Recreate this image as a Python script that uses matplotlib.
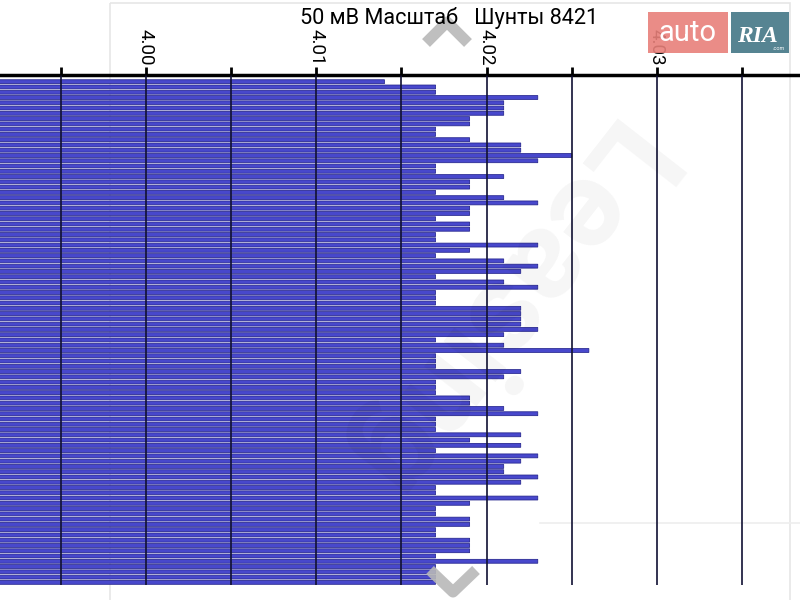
import numpy as np
import matplotlib
matplotlib.use("Agg")
import matplotlib.pyplot as plt
from matplotlib.patches import Rectangle

plt.rcParams['font.family'] = ['Roboto', 'DejaVu Sans']

title = "50 мВ Масштаб   Шунты 8421"
values = [
    4.014, 4.017, 4.017, 4.023, 4.021, 4.021, 4.021, 4.019, 4.019, 4.017,
    4.017, 4.019, 4.022, 4.022, 4.025, 4.023, 4.017, 4.017, 4.021, 4.019,
    4.019, 4.017, 4.021, 4.023, 4.019, 4.019, 4.017, 4.019, 4.019, 4.017,
    4.017, 4.023, 4.019, 4.017, 4.021, 4.023, 4.022, 4.017, 4.021, 4.023,
    4.017, 4.017, 4.017, 4.022, 4.022, 4.022, 4.022, 4.023, 4.021, 4.017,
    4.021, 4.026, 4.017, 4.017, 4.017, 4.022, 4.021, 4.017, 4.017, 4.017,
    4.019, 4.019, 4.021, 4.023, 4.017, 4.017, 4.017, 4.022, 4.019, 4.022,
    4.017, 4.023, 4.022, 4.021, 4.021, 4.023, 4.022, 4.017, 4.017, 4.023,
    4.019, 4.017, 4.017, 4.019, 4.019, 4.017, 4.017, 4.019, 4.019, 4.019,
    4.017, 4.023, 4.017, 4.017, 4.017, 4.017,
]
major_ticks = [4.00, 4.01, 4.02, 4.03]
major_labels = ["4.00", "4.01", "4.02", "4.03"]
minor_ticks = [3.995, 4.005, 4.015, 4.025, 4.035]

fig = plt.figure(figsize=(8, 6), dpi=100)
fig.patch.set_facecolor('white')

# faint background frame (screenshot panel)
bg = fig.add_axes([0, 0, 1, 1], zorder=0)
bg.set_xlim(0, 800); bg.set_ylim(600, 0); bg.axis('off')
bg.add_patch(Rectangle((110, 3), 680, 620, fill=False, edgecolor='#e6e6e6', linewidth=1.2))
bg.plot([540, 800], [523, 523], color='#eeeeee', linewidth=1.2)

ax = fig.add_axes([0, 15 / 600, 1, 510 / 600], zorder=1)
ax.patch.set_alpha(0)
y = np.arange(len(values))
bars = ax.barh(y, values, height=0.74, color='#4848cc', edgecolor='#23238c', linewidth=0.55, zorder=2)
for b in bars:
    b.set_snap(False)
ax.set_xlim(3.991428, 4.038396)
ax.set_ylim(len(values) - 0.5, -1.27)

ax.xaxis.tick_top()
ax.set_xticks(major_ticks)
ax.set_xticklabels(major_labels, rotation=270, fontsize=13.5)
ax.set_xticks(minor_ticks, minor=True)
ax.tick_params(axis='x', which='both', direction='out', length=6, width=2, color='black', pad=1)
ax.tick_params(axis='y', left=False, labelleft=False)
ax.grid(axis='x', which='both', color='#111133', linewidth=1.2, zorder=3)
ax.set_axisbelow(False)
for s in ['left', 'right', 'bottom']:
    ax.spines[s].set_visible(False)
ax.spines['top'].set_linewidth(2.5)
ax.spines['top'].set_color('black')

# overlay layer (title, logo, chevrons, watermark)
ov = fig.add_axes([0, 0, 1, 1], zorder=5)
ov.set_xlim(0, 800); ov.set_ylim(600, 0); ov.axis('off')
ov.text(449, 18, title, ha='center', va='center', fontsize=15.6, color='black')

ov.text(500, 310, "Leasing", ha='center', va='center', fontsize=90, color='black',
        alpha=0.04, rotation=-128, fontweight='bold')

ov.plot([426, 447, 468], [43, 22, 43], color='#b8b8b8', linewidth=8, solid_capstyle='butt', alpha=0.9)
ov.plot([430, 453, 476], [570, 592, 570], color='#b8b8b8', linewidth=8, solid_capstyle='butt', alpha=0.9)

ov.add_patch(Rectangle((648, 12), 80, 41, facecolor='#e8807a', edgecolor='none', alpha=0.9))
ov.add_patch(Rectangle((731, 12), 58, 41, facecolor='#4d7d8c', edgecolor='none', alpha=0.95))
ov.text(687, 33, "auto", ha='center', va='center', fontsize=21, color='white')
ov.text(757, 36, "RIA", ha='center', va='center', fontsize=17, color='white',
        family='Liberation Serif', fontweight='bold', fontstyle='italic')
ov.text(779, 49, ".com", ha='center', va='center', fontsize=4, color='white')

fig.savefig("out.png", dpi=100)
